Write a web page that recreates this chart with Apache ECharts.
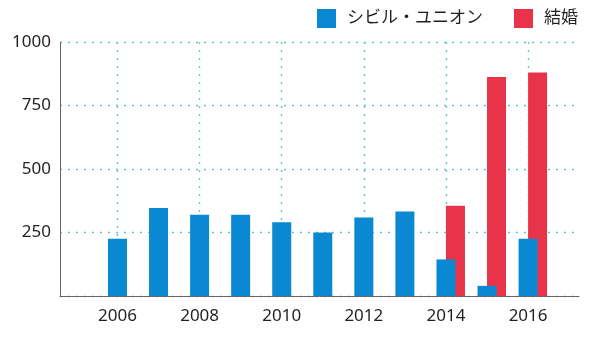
<!DOCTYPE html>
<html>
<head>
<meta charset="utf-8">
<style>
  html, body { margin: 0; padding: 0; background: #fff; }
  #chart { width: 600px; height: 338px; }
</style>
<script src="https://cdn.jsdelivr.net/npm/echarts@6/dist/echarts.min.js"></script>
</head>
<body>
<div id="chart"></div>
<script>
// Yearly counts, 2006–2016
const years = [2006, 2007, 2008, 2009, 2010, 2011, 2012, 2013, 2014, 2015, 2016];
const civilUnion = [225, 346, 320, 320, 290, 250, 309, 333, 144, 40, 225];
const marriageYears = [2014, 2015, 2016];
const marriage = [355, 862, 880];
const xTickYears = [2006, 2008, 2010, 2012, 2014, 2016];
const yTicks = [0, 250, 500, 750, 1000];

const seriesNames = ['シビル・ユニオン', '結婚'];
const colors = ['#0a89d2', '#e8334b'];

const gridColor = '#5fc2dc';
const textColor = '#231f20';
const fontFamily = "'Noto Sans', 'Noto Sans CJK JP', sans-serif";

const chart = echarts.init(document.getElementById('chart'), null, { renderer: 'canvas' });

chart.setOption({
  animation: false,
  textStyle: { fontFamily: fontFamily },
  grid: { left: 60, right: 21, top: 42, bottom: 42, containLabel: false },
  legend: {
    left: 317,
    top: 9,
    padding: 0,
    icon: 'rect',
    itemWidth: 19,
    itemHeight: 19,
    itemGap: 31,
    data: seriesNames,
    textStyle: { fontSize: 17, color: textColor, fontFamily: fontFamily, padding: [0, 0, 0, 6] }
  },
  xAxis: {
    type: 'value',
    min: 2004.6,
    max: 2017.24,
    axisLine: { show: true, onZero: false, lineStyle: { color: '#666', width: 1 } },
    axisTick: { show: false, customValues: xTickYears },
    axisLabel: {
      customValues: xTickYears,
      fontSize: 17,
      color: textColor,
      margin: 12,
      formatter: v => String(v)
    },
    splitLine: { show: true, lineStyle: { color: gridColor, width: 1.4, type: [2, 6] } }
  },
  yAxis: {
    type: 'value',
    min: yTicks[0],
    max: yTicks[yTicks.length - 1],
    interval: 250,
    axisLine: { show: true, lineStyle: { color: '#666', width: 1 } },
    axisTick: { show: false },
    axisLabel: {
      fontSize: 17,
      color: textColor,
      margin: 9,
      showMinLabel: false,
      formatter: v => String(v)
    },
    splitLine: { show: true, lineStyle: { color: gridColor, width: 1.4, type: [2, 6] } }
  },
  series: [
    {
      // empty slot so the civil-union bar sits centred on its year
      name: 'slot',
      type: 'bar',
      barWidth: 19,
      barGap: '-50%',
      data: []
    },
    {
      name: seriesNames[0],
      type: 'bar',
      barWidth: 19,
      barGap: '-50%',
      z: 3,
      itemStyle: { color: colors[0] },
      data: years.map((y, i) => [y, civilUnion[i]])
    },
    {
      name: seriesNames[1],
      type: 'bar',
      barWidth: 19,
      barGap: '-50%',
      z: 2,
      itemStyle: { color: colors[1] },
      data: marriageYears.map((y, i) => [y, marriage[i]])
    }
  ]
});
</script>
</body>
</html>
